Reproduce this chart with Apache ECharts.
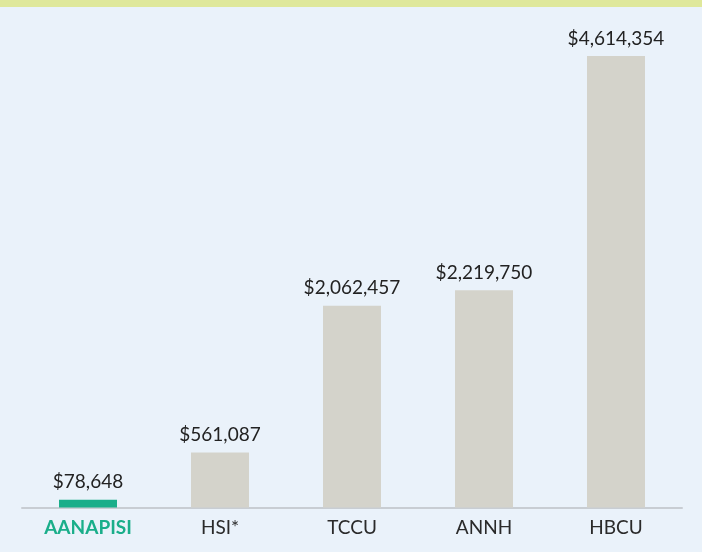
<!DOCTYPE html>
<html>
<head>
<meta charset="utf-8">
<script src="https://cdn.jsdelivr.net/npm/echarts@6/dist/echarts.min.js"></script>
<style>
  html, body { margin: 0; padding: 0; background: #eaf2fa; }
  #cht { width: 702px; height: 552px; }
</style>
</head>
<body>
<div id="cht"></div>
<script>
var categories = ['AANAPISI', 'HSI*', 'TCCU', 'ANNH', 'HBCU'];
var amounts = [78648, 561087, 2062457, 2219750, 4614354];

var barColors = ['#1aae8a', '#d4d3cb', '#d4d3cb', '#d4d3cb', '#d4d3cb'];

function money(v) {
    return '$' + v.toString().replace(/\B(?=(\d{3})+(?!\d))/g, ',');
}

var config = {
    backgroundColor: '#eaf2fa',
    animation: false,
    textStyle: { fontFamily: 'Lato' },
    graphic: [{
        type: 'rect',
        left: 0, top: 0,
        shape: { width: 702, height: 7 },
        style: { fill: '#dfe89b' }
    }],
    grid: {
        left: 22,
        width: 660,
        top: 56,
        bottom: 44.5
    },
    xAxis: {
        type: 'category',
        data: categories,
        axisTick: { show: false },
        axisLine: { lineStyle: { color: '#c8cdd3', width: 2 } },
        axisLabel: {
            interval: 0,
            margin: 11,
            fontSize: 19,
            color: '#2a2a2a',
            formatter: function (v, i) {
                return i === 0 ? '{hl|' + v + '}' : v;
            },
            rich: {
                hl: { color: '#1aae8a', fontWeight: 'bold', fontSize: 19 }
            }
        }
    },
    yAxis: {
        type: 'value',
        min: 0,
        max: 4614354,
        show: false,
        splitLine: { show: false }
    },
    series: [{
        type: 'bar',
        barWidth: 58,
        data: amounts.map(function (v, i) {
            return { value: v, itemStyle: { color: barColors[i] } };
        }),
        label: {
            show: true,
            position: 'top',
            distance: 8,
            fontSize: 19,
            color: '#222',
            formatter: function (p) { return money(p.value); }
        }
    }]
};

window.onload = function () {
    var myChart = echarts.init(document.getElementById('cht'));
    myChart.setOption(config);
};
</script>
</body>
</html>
